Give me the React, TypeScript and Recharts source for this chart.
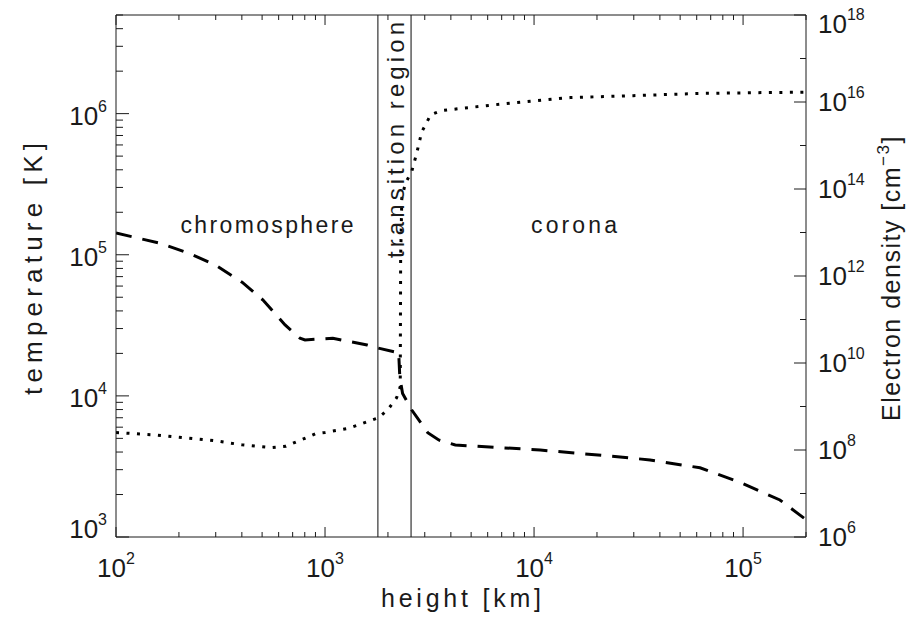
import React from "react";
import { ComposedChart, Line, XAxis, YAxis, ReferenceLine } from "recharts";

// temperature profile (dotted), height in km, T in K
const tempHeight = [100, 150, 200, 300, 400, 550, 650, 800, 900, 1000, 1300, 1800, 2000, 2200, 2290, 2300, 2330, 2420, 2600, 2750, 2900, 3200, 3600, 4500, 7400, 14900, 29800, 60300, 125000, 200000];
const tempK = [5500, 5300, 5100, 4800, 4500, 4300, 4400, 5000, 5400, 5500, 5900, 7000, 8000, 9700, 11600, 93000, 250000, 320000, 390000, 530000, 740000, 980000, 1050000, 1090000, 1180000, 1300000, 1340000, 1390000, 1410000, 1420000];

// electron density profile (dashed), cm^-3
const densHeight = [100, 162, 221, 298, 401, 505, 644, 759, 802, 1090, 1590, 1800, 2160, 2250, 2280, 2350, 2600, 3100, 3500, 4200, 10700, 25800, 35900, 62200, 96900, 150000, 200000];
const densCm3 = [9.7e12, 5.7e12, 3.4e12, 1.8e12, 7.2e11, 2.8e11, 7.5e10, 3.7e10, 3.4e10, 3.7e10, 2.6e10, 2.2e10, 1.8e10, 1.8e10, 4.6e9, 2.0e9, 8.3e8, 2.5e8, 1.7e8, 1.3e8, 1.0e8, 6.9e7, 5.9e7, 3.9e7, 1.8e7, 7.1e6, 2.5e6];

// region boundaries (km)
const regionEdges = [1790, 2580];

const heightTicks = [100, 200, 300, 400, 500, 600, 700, 800, 900, 1000, 2000, 3000, 4000, 5000, 6000, 7000, 8000, 9000, 10000, 20000, 30000, 40000, 50000, 60000, 70000, 80000, 90000, 100000, 200000];
const tempTicks = [1000, 2000, 3000, 4000, 5000, 6000, 7000, 8000, 9000, 10000, 20000, 30000, 40000, 50000, 60000, 70000, 80000, 90000, 100000, 200000, 300000, 400000, 500000, 600000, 700000, 800000, 900000, 1000000, 2000000, 3000000, 4000000, 5000000];
const densTicks = [1e6, 1e7, 1e8, 1e9, 1e10, 1e11, 1e12, 1e13, 1e14, 1e15, 1e16, 1e17, 1e18];

const tempData = tempHeight.map((h, i) => ({ h, T: tempK[i] }));
const densData = densHeight.map((h, i) => ({ h, n: densCm3[i] }));

const FONT = "'Liberation Sans', Arial, sans-serif";
const INK = "#1a1a1a";

const expOf = (v: number) => Math.round(Math.log10(v));
const isDecade = (v: number) => Math.abs(Math.log10(v) - expOf(v)) < 1e-6;

function BottomTick({ x, y, payload }: any) {
  const v = payload.value;
  const major = isDecade(v);
  return (
    <g>
      <line x1={x} x2={x} y1={y} y2={y - (major ? 10 : 5)} stroke={INK} />
      {major && (
        <text x={x} y={y + 40} textAnchor="middle" fontSize={26} fill={INK} fontFamily={FONT}>
          10<tspan dy={-13} fontSize={16}>{expOf(v)}</tspan>
        </text>
      )}
    </g>
  );
}

function TopTick({ x, y, payload }: any) {
  const major = isDecade(payload.value);
  return <line x1={x} x2={x} y1={y} y2={y + (major ? 10 : 5)} stroke={INK} />;
}

function LeftTick({ x, y, payload }: any) {
  const v = payload.value;
  const major = isDecade(v);
  return (
    <g>
      <line x1={x} x2={x + (major ? 13 : 7)} y1={y} y2={y} stroke={INK} />
      {major && (
        <text x={x - 9} y={Math.min(y + 11, 538)} textAnchor="end" fontSize={26} fill={INK} fontFamily={FONT}>
          10<tspan dy={-13} fontSize={16}>{expOf(v)}</tspan>
        </text>
      )}
    </g>
  );
}

function RightTick({ x, y, payload }: any) {
  const v = payload.value;
  const e = expOf(v);
  const major = e % 2 === 0;
  return (
    <g>
      <line x1={x} x2={x - (major ? 12 : 6)} y1={y} y2={y} stroke={INK} />
      {major && (
        <text x={x + 12} y={Math.max(33, Math.min(y + 9, 550))} fontSize={26} fill={INK} fontFamily={FONT}>
          10<tspan dy={-13} fontSize={16}>{e}</tspan>
        </text>
      )}
    </g>
  );
}

export default function App() {
  return (
    <div style={{ position: "absolute", left: 0, top: 0, width: 909, height: 619, background: "#fff" }}>
      <ComposedChart width={909} height={619} margin={{ top: 10, right: 43, bottom: 52, left: 56 }}>
        <XAxis
          xAxisId="bottom"
          dataKey="h"
          type="number"
          scale="log"
          domain={[100, 200000]}
          allowDataOverflow
          ticks={heightTicks}
          interval={0}
          height={30}
          tickSize={0}
          tickMargin={0}
          tickLine={false}
          axisLine={{ stroke: INK }}
          tick={<BottomTick />}
        />
        <XAxis
          xAxisId="top"
          orientation="top"
          dataKey="h"
          type="number"
          scale="log"
          domain={[100, 200000]}
          allowDataOverflow
          ticks={heightTicks}
          interval={0}
          height={5}
          tickSize={0}
          tickMargin={0}
          tickLine={false}
          axisLine={{ stroke: INK }}
          tick={<TopTick />}
        />
        <YAxis
          yAxisId="T"
          orientation="left"
          type="number"
          scale="log"
          domain={[1000, 5000000]}
          allowDataOverflow
          ticks={tempTicks}
          interval={0}
          width={60}
          tickSize={0}
          tickMargin={0}
          tickLine={false}
          axisLine={{ stroke: INK }}
          tick={<LeftTick />}
        />
        <YAxis
          yAxisId="n"
          orientation="right"
          type="number"
          scale="log"
          domain={[1e6, 1e18]}
          allowDataOverflow
          ticks={densTicks}
          interval={0}
          width={60}
          tickSize={0}
          tickMargin={0}
          tickLine={false}
          axisLine={{ stroke: INK }}
          tick={<RightTick />}
        />
        {regionEdges.map((h) => (
          <ReferenceLine key={h} x={h} xAxisId="bottom" yAxisId="T" stroke="#333" strokeWidth={1.2} />
        ))}
        <Line
          data={tempData}
          dataKey="T"
          xAxisId="bottom"
          yAxisId="T"
          type="linear"
          dot={false}
          stroke="#000"
          strokeWidth={3}
          strokeDasharray="3 7.5"
          isAnimationActive={false}
        />
        <Line
          data={densData}
          dataKey="n"
          xAxisId="bottom"
          yAxisId="n"
          type="linear"
          dot={false}
          stroke="#000"
          strokeWidth={3}
          strokeDasharray="16 11"
          isAnimationActive={false}
        />
      </ComposedChart>
      <svg width={909} height={619} style={{ position: "absolute", left: 0, top: 0, pointerEvents: "none" }}>
        <g fontFamily={FONT} fill={INK}>
          <text x={267} y={233} fontSize={23} textAnchor="middle" textLength={173}>chromosphere</text>
          <text x={574} y={233} fontSize={23} textAnchor="middle" textLength={86}>corona</text>
          <text x={404} y={140} fontSize={24} textAnchor="middle" textLength={236} transform="rotate(-90 404 140)">transition region</text>
          <text x={42} y={269} fontSize={26} textAnchor="middle" textLength={252} transform="rotate(-90 42 269)">temperature [K]</text>
          <text x={461} y={607} fontSize={25} textAnchor="middle" textLength={160}>height [km]</text>
          <text x={900} y={278} fontSize={25} textAnchor="middle" letterSpacing={1.5} transform="rotate(-90 900 278)">
            Electron density [cm<tspan dy={-11} fontSize={17}>−3</tspan><tspan dy={11}>]</tspan>
          </text>
        </g>
      </svg>
    </div>
  );
}
